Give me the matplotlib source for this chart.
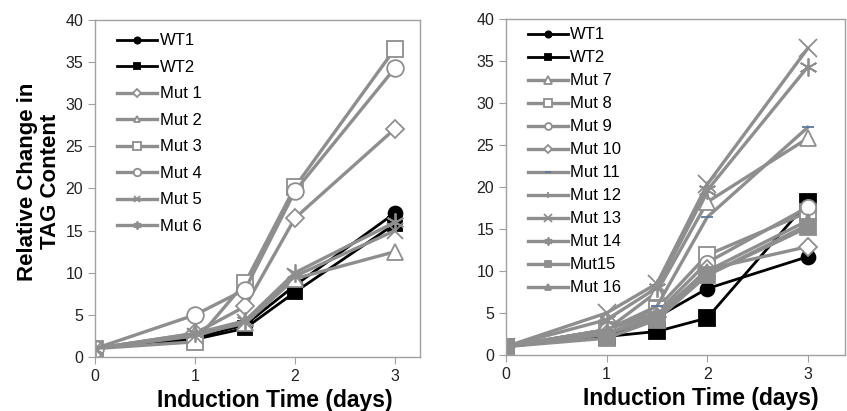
import numpy as np
import matplotlib
matplotlib.use("Agg")
import matplotlib.pyplot as plt

plt.rcParams['font.family'] = ['Liberation Sans', 'DejaVu Sans']

# induction time (days)
days = [0, 1, 1.5, 2, 3]

# left panel
left_names = ['WT1', 'WT2', 'Mut 1', 'Mut 2', 'Mut 3', 'Mut 4', 'Mut 5', 'Mut 6']
wt1_a = [1, 2.3, 3.8, 8.5, 17.1]
wt2_a = [1, 2.1, 3.4, 7.7, 15.8]
mut1 = [1, 2.8, 6.0, 16.5, 27.1]
mut2 = [1, 2.7, 4.0, 9.3, 12.5]
mut3 = [1, 1.8, 8.8, 20.2, 36.6]
mut4 = [1, 5.0, 8.0, 19.7, 34.3]
mut5 = [1, 2.5, 4.2, 9.6, 15.0]
mut6 = [1, 2.8, 4.3, 10.0, 16.0]
left_vals = [wt1_a, wt2_a, mut1, mut2, mut3, mut4, mut5, mut6]

# right panel
right_names = ['WT1', 'WT2', 'Mut 7', 'Mut 8', 'Mut 9', 'Mut 10', 'Mut 11',
               'Mut 12', 'Mut 13', 'Mut 14', 'Mut15', 'Mut 16']
wt1_b = [1, 2.3, 4.5, 7.9, 11.7]
wt2_b = [1, 2.2, 2.8, 4.4, 18.2]
mut7 = [1, 3.0, 7.5, 18.2, 25.8]
mut8 = [1, 3.0, 5.5, 11.9, 17.0]
mut9 = [1, 3.0, 5.0, 11.0, 17.6]
mut10 = [1, 2.5, 4.5, 10.2, 12.9]
mut11 = [1, 3.0, 5.8, 16.4, 27.1]
mut12 = [1, 2.5, 4.5, 9.5, 15.5]
mut13 = [1, 5.0, 8.5, 20.3, 36.5]
mut14 = [1, 4.2, 8.0, 19.6, 34.3]
mut15 = [1, 2.0, 4.2, 9.5, 15.2]
mut16 = [1, 2.5, 4.8, 10.0, 16.0]
right_vals = [wt1_b, wt2_b, mut7, mut8, mut9, mut10, mut11, mut12, mut13, mut14, mut15, mut16]

GRAY = '#8e8e8e'
AX_GRAY = '#a0a0a0'

# (marker, edge colour, face colour, size)
left_style = [('o', 'black', 'black', 10), ('s', 'black', 'black', 10),
              ('D', GRAY, 'white', 9), ('^', GRAY, 'white', 11),
              ('s', GRAY, 'white', 12), ('o', GRAY, 'white', 12),
              ('x', GRAY, GRAY, 11), ((6, 2, 0), GRAY, GRAY, 13)]
right_style = [('o', 'black', 'black', 10), ('s', 'black', 'black', 11),
               ('^', GRAY, 'white', 12), ('s', GRAY, 'white', 12),
               ('o', GRAY, 'white', 11), ('D', GRAY, 'white', 9),
               ('_', '#5f7a9c', '#5f7a9c', 9), ('+', GRAY, GRAY, 9),
               ('x', GRAY, GRAY, 13), ((6, 2, 0), GRAY, GRAY, 13),
               ('s', GRAY, GRAY, 11), ('^', GRAY, GRAY, 10)]


def draw(ax, names, vals, styles, xmax, lsp, anchor, xlab_x):
    for name, y, (m, c, fc, ms) in zip(names, vals, styles):
        lc = 'black' if c == 'black' else GRAY
        lw = 2.0 if c == 'black' else 2.4
        ax.plot(days, y, color=lc, lw=lw, marker=m, ms=ms, mfc=fc,
                mec=c, mew=1.3, label=name)
    ax.set_xlim(0, xmax)
    ax.set_ylim(0, 40)
    ax.set_xticks([0, 1, 2, 3])
    ax.set_yticks(np.arange(0, 41, 5))
    for s in ax.spines.values():
        s.set_color(AX_GRAY)
        s.set_linewidth(1.0)
    ax.tick_params(direction='out', length=5, color=AX_GRAY, labelsize=11.5,
                   labelcolor='#222222')
    ax.set_xlabel('Induction Time (days)', fontsize=16.5, fontweight='bold')
    ax.xaxis.set_label_coords(xlab_x, -0.095, transform=ax.transAxes)
    ax.xaxis.label.set_va('top')
    ax.legend(loc='upper left', frameon=False, fontsize=12,
              markerscale=0.45, handlelength=2.4, handletextpad=0.15,
              labelspacing=lsp, borderaxespad=0.0, bbox_to_anchor=anchor)


fig = plt.figure(figsize=(8.47, 4.11), dpi=100)
ax1 = fig.add_axes([0.1122, 0.1314, 0.3837, 0.820])
ax2 = fig.add_axes([0.5974, 0.1363, 0.4002, 0.8175])

draw(ax1, left_names, left_vals, left_style, 3.25, 0.69, (0.048, 0.98), 0.554)
draw(ax2, right_names, right_vals, right_style, 3.37, 0.48, (0.044, 0.995), 0.575)
ax1.set_ylabel('Relative Change in\nTAG Content', fontsize=16,
               fontweight='bold', linespacing=1.15)
ax1.yaxis.set_label_coords(-0.105, 0.52, transform=ax1.transAxes)

fig.savefig('out.png', dpi=100)
